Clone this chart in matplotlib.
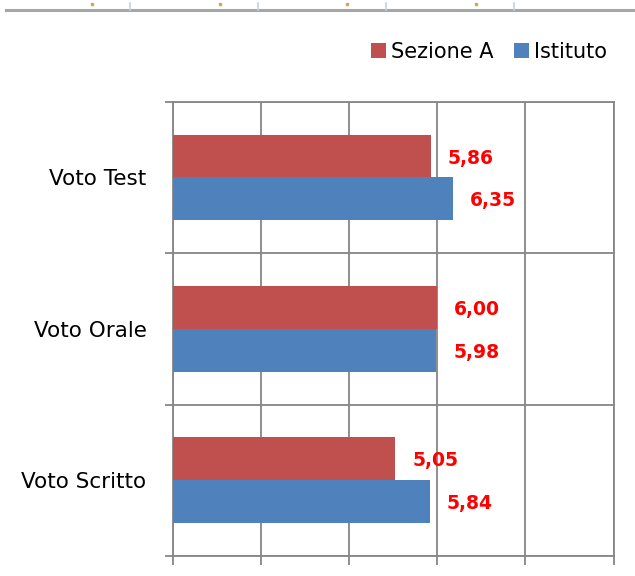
import numpy as np
import matplotlib
matplotlib.use("Agg")
import matplotlib.pyplot as plt
from matplotlib.patches import Patch
from matplotlib.lines import Line2D

# dati
categorie = ["Voto Scritto", "Voto Orale", "Voto Test"]
sezione_a = [5.05, 6.00, 5.86]
istituto = [5.84, 5.98, 6.35]
serie = ["Sezione A", "Istituto"]

ROSSO = "#C0504D"
BLU = "#4F81BD"
GRIGIO = "#868686"

W, H = 635, 576
fig = plt.figure(figsize=(W / 100, H / 100), dpi=100)
ax = fig.add_axes([173 / W, 1 - 556 / H, (613.5 - 173) / W, (556 - 101.7) / H])

y = np.arange(len(categorie))
h = 0.283
b1 = ax.barh(y + h / 2, sezione_a, h, color=ROSSO, zorder=3)
b2 = ax.barh(y - h / 2, istituto, h, color=BLU, zorder=3)

for barre, valori in ((b1, sezione_a), (b2, istituto)):
    for r, v in zip(barre, valori):
        ax.annotate(("%.2f" % v).replace(".", ","),
                    (r.get_width(), r.get_y() + r.get_height() / 2),
                    xytext=(12, -1.5), textcoords="offset points",
                    ha="left", va="center", color="#FF0000",
                    fontsize=13.5, fontweight="bold", zorder=4)

ax.set_xlim(0, 10)
ax.set_ylim(-0.5, len(categorie) - 0.5)
ax.set_xticks(np.arange(0, 11, 2))
ax.set_xticklabels([])
ax.set_yticks(np.arange(-0.5, len(categorie), 1))
ax.set_yticklabels([])
ax.set_yticks(y, minor=True)
ax.set_yticklabels(categorie, minor=True, fontsize=15.5, color="black")
ax.tick_params(axis="y", which="minor", length=0, pad=19)
ax.tick_params(axis="y", which="major", length=6, width=1.3, color=GRIGIO)
ax.tick_params(axis="x", which="major", length=6.5, width=1.3, color=GRIGIO)
ax.grid(True, color=GRIGIO, linewidth=1.3, zorder=0)
ax.set_axisbelow(True)
for s in ax.spines.values():
    s.set_color(GRIGIO)
    s.set_linewidth(1.3)

handles = [Patch(facecolor=ROSSO), Patch(facecolor=BLU)]
fig.legend(handles, serie, loc="center right", bbox_to_anchor=(607 / W, 1 - 52 / H),
           ncol=2, frameon=False, fontsize=15, handlelength=0.7, handleheight=0.7,
           handletextpad=0.25, columnspacing=1.0, borderpad=0, borderaxespad=0)

# bordo del foglio in alto
fig.add_artist(Line2D([6 / W, 1], [1 - 10 / H] * 2, color="#a6a6a6", lw=2.2))
for xx in (130, 258, 386, 514):
    fig.add_artist(Line2D([xx / W] * 2, [1 - 3 / H, 1 - 10 / H], color="#c8d0dc", lw=1.2))
for xx in (92, 220, 347, 476):
    fig.add_artist(Line2D([xx / W], [1 - 4 / H], marker="s", ms=1.5, color="#d9a066", lw=0))

fig.savefig("out.png", dpi=100)
